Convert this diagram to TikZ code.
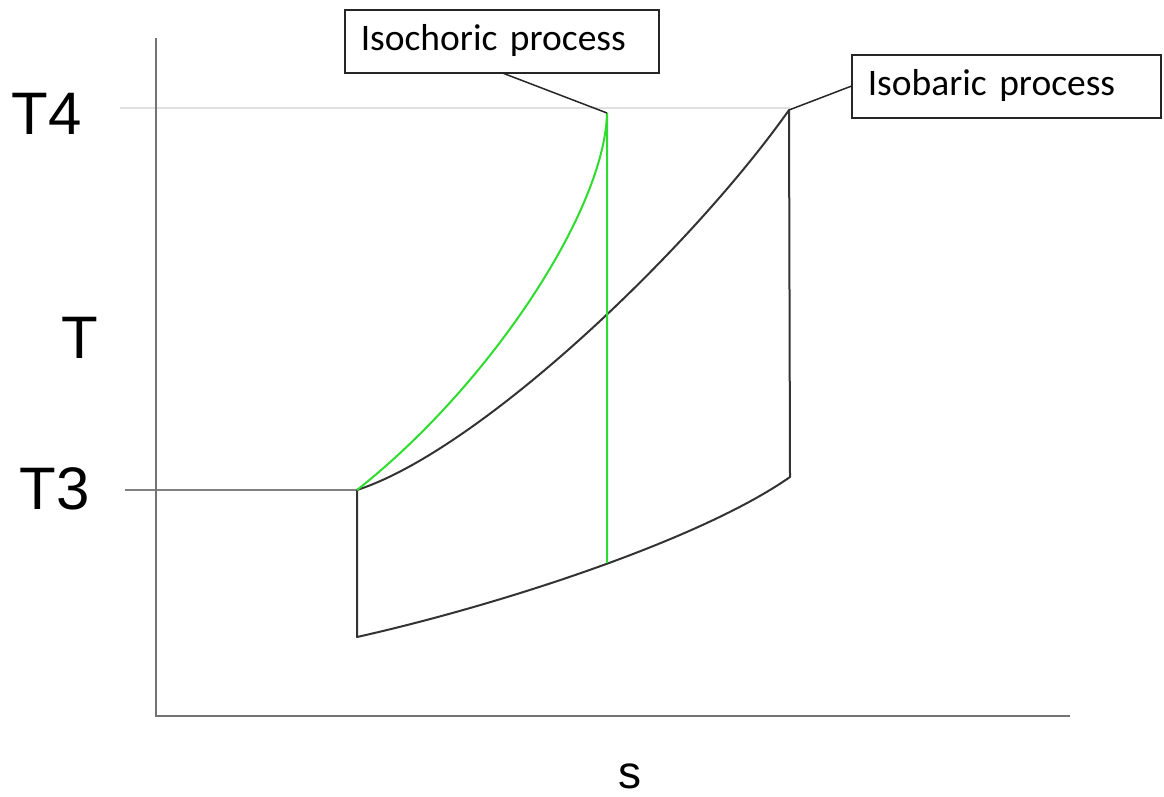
\documentclass[tikz,border=0pt]{standalone}
\usepackage{fontspec}
\setmainfont{Liberation Sans}
\newfontfamily\calib{Carlito}
\begin{document}
\begin{tikzpicture}[x=1pt,y=-1pt,
  axisline/.style={draw=black!55, line width=2pt},
  guide/.style={draw=black!12, line width=1.5pt},
  guidedark/.style={draw=black!50, line width=1.5pt},
  cycleline/.style={draw=black!80, line width=2pt, line join=round},
  greenline/.style={draw={rgb,255:red,45;green,220;blue,45}, line width=2pt},
  callout/.style={draw=black!85, line width=1.5pt, fill=white, rectangle, inner xsep=16pt, inner ysep=0pt,
     font=\calib\fontsize{37.5}{40}\selectfont, anchor=north west, minimum height=63pt, text height=26pt, text depth=8pt},
  leader/.style={draw=black!85, line width=1.5pt},
  biglabel/.style={font=\fontsize{60}{70}\selectfont, anchor=base, inner sep=0pt}
]
\useasboundingbox (0,0) rectangle (1164,796);
% cycle points
\coordinate (A) at (357,490);
\coordinate (B) at (607,113);
\coordinate (C) at (789,110);
\coordinate (D) at (790,477);
\coordinate (E) at (357,637);
\coordinate (F) at (607,563);
\coordinate (yTop) at (156,38);
\coordinate (orig) at (156,716);
\coordinate (xEnd) at (1070,716);
\coordinate (t4s) at (120,108);
\coordinate (t4e) at (790,108);
\coordinate (t3s) at (125,490);
% guide lines
\draw[guide] (t4s) -- (t4e);
\draw[guidedark] (t3s) -- (A);
% axes
\draw[axisline] (yTop) -- (orig) -- (xEnd);
% labels
\node[biglabel] (lT4) at (47,134) {T4};
\node[biglabel] (lT3) at (55,509) {T3};
\node[biglabel] (lT) at (80,358) {T};
\node[biglabel, font=\fontsize{46}{52}\selectfont] (ls) at (630,788) {s};
% cycle
\draw[cycleline] (A) .. controls (480,450) and (690,250) .. (C) -- (D)
   .. controls (700,540) and (500,605) .. (E) -- (A);
\draw[greenline] (A) .. controls (490,385) and (605,210) .. (B) -- (F);
% callouts
\node[callout, minimum width=314pt, text width=282pt] (iso) at (344,9) {Isochoric process};
\node[callout, minimum width=309pt, text width=277pt] (isob) at (851,54) {Isobaric process};
\draw[leader] (iso.south) ++(2,0) -- (B);
\draw[leader] (isob.west) -- (C);
\end{tikzpicture}
\end{document}
